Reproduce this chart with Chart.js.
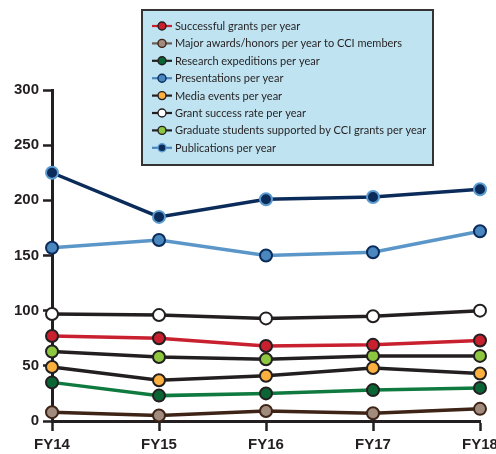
<!DOCTYPE html>
<html>
<head>
<meta charset="utf-8">
<script src="https://cdn.jsdelivr.net/npm/chart.js@4.4.1/dist/chart.umd.min.js"></script>
<style>
  html, body { margin: 0; padding: 0; background: #ffffff; }
  #wrap { width: 496px; height: 454px; overflow: hidden; position: relative; }
  canvas { display: block; }
</style>
</head>
<body>
<div id="wrap"><canvas id="c" width="520" height="454" style="width:520px;height:454px"></canvas></div>
<script>
// Fiscal years on the x axis
const categories = ['FY14', 'FY15', 'FY16', 'FY17', 'FY18'];

// Yearly counts per indicator
const successfulGrants    = [77, 75, 68, 69, 73];
const majorAwards         = [8, 5, 9, 7, 11];
const researchExpeditions = [35, 23, 25, 28, 30];
const presentations       = [157, 164, 150, 153, 172];
const mediaEvents         = [49, 37, 41, 48, 43];
const grantSuccessRate    = [97, 96, 93, 95, 100];
const gradStudents        = [63, 58, 56, 59, 59];
const publications        = [225, 185, 201, 203, 210];

// Value axis ticks
const yTicks = [0, 50, 100, 150, 200, 250, 300];

// Series names as shown in the key
const seriesNames = [
  'Successful grants per year',
  'Major awards/honors per year to CCI members',
  'Research expeditions per year',
  'Presentations per year',
  'Media events per year',
  'Grant success rate per year',
  'Graduate students supported by CCI grants per year',
  'Publications per year'
];
const seriesValues = [successfulGrants, majorAwards, researchExpeditions, presentations,
                      mediaEvents, grantSuccessRate, gradStudents, publications];

// line colour, marker fill, marker outline, key line colour
const seriesStyles = [
  { line: '#c8202f', fill: '#c8202f', edge: '#231f20', key: '#c8202f' },
  { line: '#3d2416', fill: '#a08b7d', edge: '#3d2416', key: '#6b5a50' },
  { line: '#0f7a3f', fill: '#0b6434', edge: '#231f20', key: '#231f20' },
  { line: '#5b96c9', fill: '#4a87bf', edge: '#0b2c5a', key: '#4a87bf' },
  { line: '#231f20', fill: '#fbb040', edge: '#231f20', key: '#231f20' },
  { line: '#231f20', fill: '#ffffff', edge: '#231f20', key: '#231f20' },
  { line: '#231f20', fill: '#8dc63f', edge: '#231f20', key: '#231f20' },
  { line: '#0b2c5a', fill: '#0b2c5a', edge: '#5b9bd0', key: '#4a87bf' }
];

const INK = '#231f20';
const AXIS_FONT = { family: '"Liberation Sans", Arial, sans-serif', size: 15, weight: 'bold' };

const datasets = seriesNames.map((name, i) => ({
  label: name,
  data: seriesValues[i],
  borderColor: seriesStyles[i].line,
  backgroundColor: seriesStyles[i].fill,
  pointBackgroundColor: seriesStyles[i].fill,
  pointBorderColor: seriesStyles[i].edge,
  keyColor: seriesStyles[i].key,
  borderWidth: 3.5,
  pointRadius: 6,
  pointBorderWidth: 2,
  tension: 0,
  clip: false
}));

// Boxed key drawn over the upper part of the plot
const keyBox = {
  id: 'keyBox',
  afterDraw(chart) {
    const ctx = chart.ctx;
    const x = 142, y = 10, w = 291, h = 155;
    ctx.save();
    ctx.fillStyle = '#bfe3f1';
    ctx.fillRect(x, y, w, h);
    ctx.lineWidth = 2;
    ctx.strokeStyle = '#333333';
    ctx.strokeRect(x, y, w, h);
    ctx.font = '11px Lato, "Liberation Sans", sans-serif';
    ctx.textBaseline = 'middle';
    chart.data.datasets.forEach((ds, i) => {
      const ry = 26 + i * 17.4;
      ctx.beginPath();
      ctx.moveTo(152, ry);
      ctx.lineTo(172, ry);
      ctx.lineWidth = 2.2;
      ctx.strokeStyle = ds.keyColor;
      ctx.stroke();
      ctx.beginPath();
      ctx.arc(162, ry, 4, 0, Math.PI * 2);
      ctx.fillStyle = ds.pointBackgroundColor;
      ctx.fill();
      ctx.lineWidth = 1.4;
      ctx.strokeStyle = ds.pointBorderColor;
      ctx.stroke();
      ctx.fillStyle = INK;
      ctx.fillText(ds.label, 175, ry + 0.5);
    });
    ctx.restore();
  }
};

new Chart(document.getElementById('c'), {
  type: 'line',
  data: { labels: categories, datasets },
  plugins: [keyBox],
  options: {
    responsive: false,
    animation: false,
    devicePixelRatio: 1,
    layout: { padding: { top: 90, right: 40, left: 0, bottom: 0 } },
    plugins: { legend: { display: false }, tooltip: { enabled: false } },
    scales: {
      x: {
        type: 'category',
        offset: false,
        afterFit(scale) { scale.height = 33; },
        grid: { drawOnChartArea: false, drawTicks: true, tickLength: 10, tickWidth: 2.5, tickColor: INK },
        border: { display: true, color: INK, width: 3 },
        ticks: { color: INK, font: AXIS_FONT, padding: 5, maxRotation: 0, autoSkip: false }
      },
      y: {
        type: 'linear',
        min: yTicks[0],
        max: yTicks[yTicks.length - 1],
        afterFit(scale) { scale.width = 52; },
        afterBuildTicks(scale) { scale.ticks = yTicks.map(v => ({ value: v })); },
        grid: { drawOnChartArea: false, drawTicks: true, tickLength: 9, tickWidth: 2.5, tickColor: INK },
        border: { display: true, color: INK, width: 3 },
        ticks: { color: INK, font: AXIS_FONT, padding: 4 }
      }
    }
  }
});
</script>
</body>
</html>
